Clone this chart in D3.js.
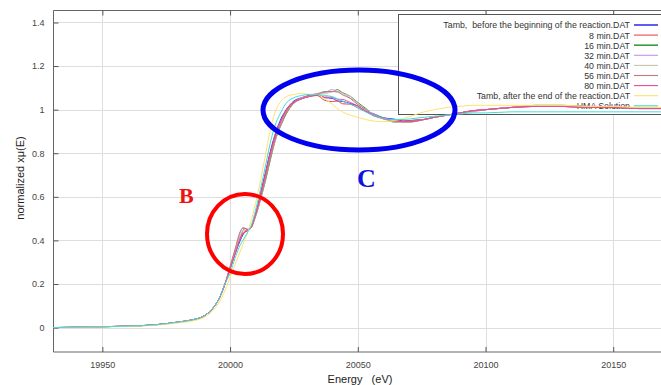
<!DOCTYPE html>
<html>
<head>
<meta charset="utf-8">
<script src="https://cdn.jsdelivr.net/npm/d3@7"></script>
<style>
  body { margin: 0; background: #fff; }
  svg { display: block; font-family: 'Liberation Sans', Arial, sans-serif; }
</style>
</head>
<body>
<svg id="chart" width="661" height="385"></svg>
<script>
// energy grid (eV)
const energy = [19930, 19950, 19970, 19980, 19985, 19990, 19993, 19996, 19998, 20000,
  20002, 20004, 20005, 20006, 20007, 20008, 20010, 20012, 20014, 20016,
  20018, 20020, 20022, 20025, 20028, 20031, 20034, 20037, 20040, 20042,
  20044, 20047, 20050, 20053, 20056, 20060, 20064, 20068, 20072, 20076,
  20080, 20085, 20090, 20095, 20100, 20110, 20120, 20130, 20140, 20150,
  20160, 20170]

const preEdge = [0, 0.004, 0.012, 0.026, 0.035, 0.055, 0.085, 0.14, 0.2]

const tambBefore = preEdge.concat([0.27, 0.34, 0.40, 0.425, 0.44, 0.445, 0.455, 0.52, 0.62, 0.72,
  0.82, 0.90, 0.96, 1.0, 1.04, 1.055, 1.065, 1.07, 1.055, 1.052,
  1.04, 1.038, 1.028, 1.017, 0.993, 0.982, 0.963, 0.957, 0.948, 0.952,
  0.955, 0.965, 0.975, 0.985, 0.995, 1.0, 1.01, 1.015, 1.015, 1.01,
  1.01, 1.005, 1.005])
const min8 = preEdge.concat([0.27, 0.34, 0.41, 0.43, 0.44, 0.445, 0.455, 0.52, 0.61, 0.71,
  0.81, 0.89, 0.95, 1.0, 1.035, 1.05, 1.06, 1.065, 1.043, 1.037,
  1.04, 1.027, 1.025, 1.008, 0.992, 0.973, 0.962, 0.948, 0.947, 0.95,
  0.955, 0.965, 0.975, 0.985, 0.995, 1.0, 1.01, 1.015, 1.015, 1.01,
  1.01, 1.01, 1.005])
const min16 = preEdge.concat([0.27, 0.35, 0.42, 0.445, 0.455, 0.45, 0.455, 0.51, 0.59, 0.68,
  0.78, 0.87, 0.93, 0.98, 1.03, 1.05, 1.062, 1.068, 1.082, 1.083,
  1.092, 1.078, 1.062, 1.033, 1.007, 0.978, 0.962, 0.943, 0.941, 0.945,
  0.955, 0.965, 0.975, 0.985, 0.995, 1.0, 1.01, 1.02, 1.02, 1.015,
  1.01, 1.01, 1.01])
const min32 = preEdge.concat([0.28, 0.36, 0.44, 0.46, 0.455, 0.45, 0.455, 0.52, 0.60, 0.70,
  0.80, 0.88, 0.94, 0.99, 1.035, 1.055, 1.063, 1.072, 1.078, 1.092,
  1.083, 1.077, 1.053, 1.032, 0.998, 0.982, 0.958, 0.952, 0.944, 0.946,
  0.955, 0.965, 0.975, 0.985, 0.99, 1.0, 1.01, 1.015, 1.015, 1.01,
  1.01, 1.005, 1.005])
const min40 = preEdge.concat([0.27, 0.35, 0.42, 0.445, 0.45, 0.45, 0.455, 0.51, 0.59, 0.69,
  0.79, 0.87, 0.935, 0.985, 1.03, 1.05, 1.06, 1.072, 1.073, 1.082,
  1.085, 1.073, 1.062, 1.028, 1.002, 0.973, 0.957, 0.944, 0.941, 0.945,
  0.955, 0.965, 0.975, 0.985, 0.995, 1.0, 1.01, 1.02, 1.02, 1.015,
  1.01, 1.01, 1.01])
const min56 = preEdge.concat([0.28, 0.36, 0.44, 0.455, 0.455, 0.45, 0.455, 0.515, 0.595, 0.69,
  0.79, 0.875, 0.935, 0.985, 1.03, 1.05, 1.066, 1.073, 1.082, 1.083,
  1.081, 1.068, 1.052, 1.023, 1.002, 0.973, 0.962, 0.948, 0.946, 0.95,
  0.955, 0.965, 0.975, 0.985, 0.995, 1.0, 1.01, 1.015, 1.015, 1.01,
  1.01, 1.005, 1.005])
const min80 = preEdge.concat([0.27, 0.34, 0.41, 0.435, 0.445, 0.45, 0.455, 0.52, 0.61, 0.71,
  0.81, 0.89, 0.95, 0.995, 1.035, 1.05, 1.06, 1.066, 1.058, 1.057,
  1.048, 1.047, 1.033, 1.017, 0.993, 0.977, 0.958, 0.952, 0.944, 0.946,
  0.955, 0.965, 0.975, 0.985, 0.995, 1.0, 1.01, 1.015, 1.015, 1.01,
  1.01, 1.005, 1.005])
const tambAfter = [0, 0.003, 0.01, 0.022, 0.03, 0.048, 0.075, 0.12, 0.17,
  0.23, 0.29, 0.35, 0.38, 0.41, 0.44, 0.48, 0.57, 0.68, 0.80,
  0.92, 1.0, 1.04, 1.06, 1.07, 1.075, 1.07, 1.07, 1.05, 1.025,
  1.005, 0.99, 0.975, 0.965, 0.955, 0.948, 0.945, 0.95, 0.96, 0.975,
  0.99, 1.0, 1.01, 1.015, 1.02, 1.02, 1.02, 1.02, 1.02, 1.015,
  1.015, 1.01, 1.01]
const hma = preEdge.concat([0.25, 0.32, 0.38, 0.40, 0.42, 0.44, 0.46, 0.54, 0.64, 0.75,
  0.86, 0.94, 0.99, 1.03, 1.055, 1.065, 1.07, 1.07, 1.065, 1.06,
  1.05, 1.04, 1.025, 1.01, 0.99, 0.975, 0.96, 0.955, 0.955, 0.96,
  0.965, 0.97, 0.975, 0.98, 0.985, 0.985, 0.99, 0.99, 0.99, 0.99,
  0.99, 0.99, 0.99])

const seriesNames = ['Tamb,  before the beginning of the reaction.DAT', '8 min.DAT', '16 min.DAT',
  '32 min.DAT', '40 min.DAT', '56 min.DAT', '80 min.DAT',
  'Tamb, after the end of the reaction.DAT', 'HMA Solution']
const seriesValues = [tambBefore, min8, min16, min32, min40, min56, min80, tambAfter, hma]
const seriesColors = ['#3434f0', '#e84848', '#3c9a3c', '#c890f0', '#c8c8a4', '#c07878', '#f04890', '#ffe070', '#40dcd8']

const xTicks = [19950, 20000, 20050, 20100, 20150]
const yTicks = [0, 0.2, 0.4, 0.6, 0.8, 1, 1.2, 1.4]

const plotLeft = 53.5, plotTop = 10.5, plotRight = 672, plotBottom = 352

const svg = d3.select('#chart')
const x = d3.scaleLinear().domain([19930.8, 20168.7]).range([53.3, 661])
const y = d3.scaleLinear().domain([-0.112, 1.455]).range([plotBottom, plotTop])

// grid
const grid = svg.append('g')
grid.selectAll('line.vx')
  .data(xTicks)
  .enter().append('line')
  .attr('x1', d => Math.round(x(d)) + 0.5).attr('x2', d => Math.round(x(d)) + 0.5)
  .attr('y1', plotTop).attr('y2', plotBottom)
  .attr('stroke', '#dedede')
grid.selectAll('line.hy')
  .data(yTicks)
  .enter().append('line')
  .attr('y1', d => Math.round(y(d)) + 0.5).attr('y2', d => Math.round(y(d)) + 0.5)
  .attr('x1', plotLeft).attr('x2', plotRight)
  .attr('stroke', '#dedede')

// axes
const xAxis = d3.axisBottom(x).tickValues(xTicks).tickSizeInner(-5).tickSizeOuter(0).tickPadding(10)
  .tickFormat(d3.format('d'))
const gx = svg.append('g').attr('transform', `translate(0,${plotBottom})`).call(xAxis)
const xTop = d3.axisTop(x).tickValues(xTicks).tickSizeInner(-5).tickSizeOuter(0).tickFormat('')
const gxt = svg.append('g').attr('transform', `translate(0,${plotTop})`).call(xTop)
const yAxis = d3.axisLeft(y).tickValues(yTicks).tickSizeInner(-5).tickSizeOuter(0).tickPadding(9)
  .tickFormat(d3.format('~g'))
const gy = svg.append('g').attr('transform', `translate(${plotLeft},0)`).call(yAxis)

;[gx, gxt, gy].forEach(g => {
  g.select('.domain').attr('stroke', '#666')
  g.selectAll('.tick line').attr('stroke', '#555')
  g.selectAll('.tick text').attr('fill', '#444').style('font-size', '9px')
    .style('font-family', "'Liberation Sans', Arial, sans-serif")
})
gx.select('.domain').attr('d', `M${plotLeft},0H${plotRight}`)
gxt.select('.domain').attr('d', `M${plotLeft},0H${plotRight}`)
gy.select('.domain').attr('d', `M0,${plotTop}V${plotBottom}`)

svg.append('text')
  .attr('x', 360).attr('y', 383)
  .attr('text-anchor', 'middle')
  .attr('font-size', 11).attr('fill', '#222')
  .style('white-space', 'pre')
  .text('Energy   (eV)')
svg.append('text')
  .attr('transform', 'translate(24,178) rotate(-90)')
  .attr('text-anchor', 'middle')
  .attr('font-size', 11).attr('fill', '#222')
  .text('normalized xμ(E)')

// legend box (curves run over it)
const legend = svg.append('g')
legend.append('rect')
  .attr('x', 398.5).attr('y', 14.5).attr('width', 300).attr('height', 100)
  .attr('fill', '#fff').attr('stroke', '#555')
seriesNames.forEach((name, i) => {
  const ly = 25 + i * 10.1
  legend.append('text')
    .attr('x', 630).attr('y', ly + 3.4)
    .attr('text-anchor', 'end')
    .attr('font-size', 8.8).attr('fill', '#333')
    .style('white-space', 'pre')
    .text(name)
  legend.append('line')
    .attr('x1', 634).attr('x2', 658).attr('y1', ly).attr('y2', ly)
    .attr('stroke', seriesColors[i]).attr('stroke-width', i === 2 || i === 0 ? 1.6 : 1.1)
})

// spectra
svg.append('clipPath').attr('id', 'plot-clip')
  .append('rect').attr('x', plotLeft).attr('y', plotTop)
  .attr('width', plotRight - plotLeft).attr('height', plotBottom - plotTop)
const line = d3.line()
  .x((d, i) => x(energy[i]))
  .y(d => y(d))
  .curve(d3.curveMonotoneX)
svg.append('g').attr('clip-path', 'url(#plot-clip)')
  .selectAll('path')
  .data(seriesValues)
  .enter().append('path')
  .attr('fill', 'none')
  .attr('stroke', (d, i) => seriesColors[i])
  .attr('stroke-width', 1)
  .attr('d', line)

// annotations
svg.append('ellipse')
  .attr('cx', 245).attr('cy', 234).attr('rx', 38).attr('ry', 40)
  .attr('fill', 'none').attr('stroke', '#ff0000').attr('stroke-width', 4)
svg.append('ellipse')
  .attr('cx', 359).attr('cy', 110).attr('rx', 96).attr('ry', 40)
  .attr('fill', 'none').attr('stroke', '#0000ee').attr('stroke-width', 5)
svg.append('text')
  .attr('x', 179).attr('y', 203)
  .attr('font-family', "'Liberation Serif', 'Times New Roman', serif")
  .attr('font-weight', 'bold').attr('font-size', 22).attr('fill', '#ee1111')
  .text('B')
svg.append('text')
  .attr('x', 357).attr('y', 187)
  .attr('font-family', "'Liberation Serif', 'Times New Roman', serif")
  .attr('font-weight', 'bold').attr('font-size', 26).attr('fill', '#1111dd')
  .text('C')
</script>
</body>
</html>
